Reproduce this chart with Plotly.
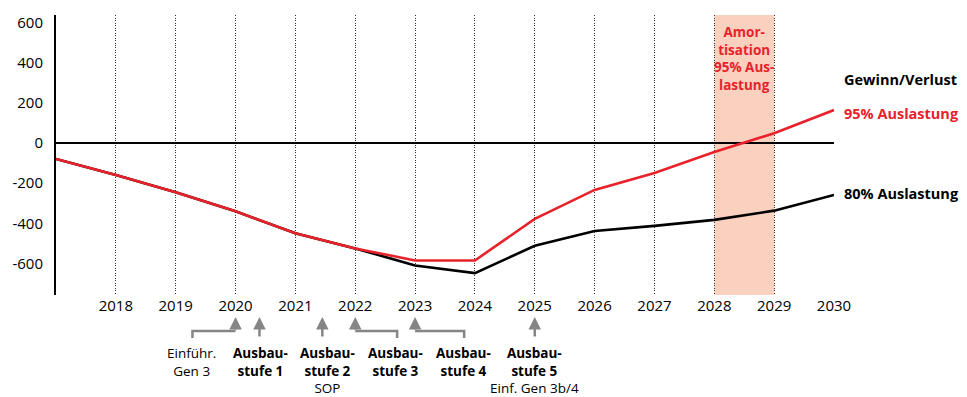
import plotly.graph_objects as go

years = list(range(2017, 2031))
gewinn_95 = [-80, -160, -245, -340, -450, -525, -585, -585, -378, -234, -150, -45, 48, 164]
gewinn_80 = [-80, -160, -245, -340, -450, -525, -610, -648, -512, -438, -413, -383, -337, -259]
x_ticks = list(range(2018, 2031))
y_ticks = [-600, -400, -200, 0, 200, 400, 600]
y_ticktext = ["-600", "-400", "-200", "0", "200", "400", "600"]

RED = "#e8222b"
GRAY = "#858585"
FONT = "Open Sans"

W, H = 967, 397
L, R, T, B = 54, 133, 15, 102
plot_h = H - T - B
plot_w = W - L - R

def py(pix):
    return (H - B - pix) / plot_h

def px(pix):
    return (pix - L) / plot_w

fig = go.Figure()
fig.add_trace(go.Scatter(x=years, y=gewinn_80, mode="lines",
                         line=dict(color="black", width=2.6), showlegend=False))
fig.add_trace(go.Scatter(x=years, y=gewinn_95, mode="lines",
                         line=dict(color=RED, width=2.6), showlegend=False))

# amortisation band
fig.add_shape(type="rect", xref="x", yref="paper", x0=2028, x1=2029, y0=0, y1=1,
              fillcolor="#fad0bf", line=dict(width=0), layer="below")

annots = []
annots.append(dict(x=2028.5, xref="x", y=py(58), yref="paper",
                   text="<b>Amor-<br>tisation<br>95% Aus-<br>lastung</b>", showarrow=False,
                   font=dict(color=RED, size=13.5, family=FONT), xanchor="center", yanchor="middle",
                   align="center"))

# right labels
for txt, yy, col in [("Gewinn/Verlust", 80, "black"), ("95% Auslastung", 113, RED), ("80% Auslastung", 193, "black")]:
    annots.append(dict(x=px(842), xref="paper", y=py(yy), yref="paper",
                       text=f"<b>{txt}</b>", showarrow=False, xanchor="left", yanchor="middle",
                       font=dict(color=col, size=14.5, family=FONT)))

# bottom milestone labels
labels = [
    (190, "Einführ.<br>Gen 3"),
    (259, "<b>Ausbau-<br>stufe 1</b>"),
    (326, "<b>Ausbau-<br>stufe 2</b><br>SOP"),
    (394, "<b>Ausbau-<br>stufe 3</b>"),
    (463, "<b>Ausbau-<br>stufe 4</b>"),
    (534, "<b>Ausbau-<br>stufe 5</b><br>Einf. Gen 3b/4"),
]
for xp, t in labels:
    annots.append(dict(x=px(xp), xref="paper", y=py(343), yref="paper",
                       text=t, showarrow=False, xanchor="center", yanchor="top", align="center",
                       font=dict(color="black", size=13.5, family=FONT), borderpad=0))

# arrows: (arrow x in years, start x in years or None)
arrows = [(2020, 2019.28), (2020.4, None), (2021.45, None), (2022, 2022.7), (2023, 2023.82), (2025, None)]
for ax_x, start in arrows:
    if start is None:
        annots.append(dict(x=ax_x, xref="x", y=py(317), yref="paper", text="", showarrow=True,
                           ax=0, ay=21, arrowhead=2, arrowsize=1, arrowwidth=2.5, arrowcolor=GRAY, standoff=0))
    else:
        fig.add_shape(type="path", xref="x", yref="paper",
                      path=f"M {start},{py(338)} L {start},{py(331)} L {ax_x},{py(331)}",
                      line=dict(color=GRAY, width=2.5))
        annots.append(dict(x=ax_x, xref="x", y=py(317), yref="paper", text="", showarrow=True,
                           ax=0, ay=14, arrowhead=2, arrowsize=1, arrowwidth=2.5, arrowcolor=GRAY, standoff=0))

fig.update_layout(
    width=W, height=H,
    margin=dict(l=L, r=R, t=T, b=B),
    plot_bgcolor="white", paper_bgcolor="white",
    font=dict(family=FONT, size=15, color="black"),
    annotations=annots,
    xaxis=dict(range=[2017, 2030], tickvals=x_ticks, showgrid=True, gridcolor="#333333",
               griddash="1px,1.5px", gridwidth=1, showline=False, zeroline=False, ticks="",
               tickfont=dict(size=15)),
    yaxis=dict(range=[-757, 637], tickvals=y_ticks, ticktext=y_ticktext, showgrid=False,
               zeroline=True, zerolinecolor="black", zerolinewidth=2,
               showline=True, linecolor="black", linewidth=2, ticks="", ticklabelstandoff=8,
               tickfont=dict(size=15)),
)

fig.write_html("out.html")
